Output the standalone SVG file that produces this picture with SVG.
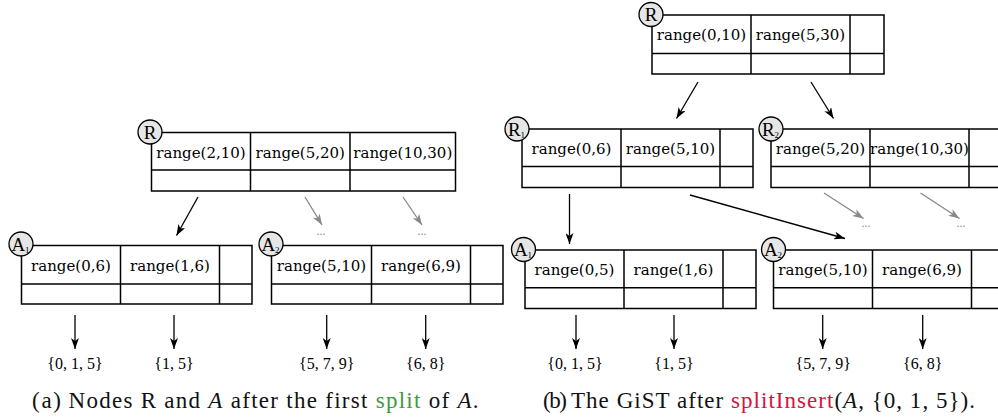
<svg xmlns="http://www.w3.org/2000/svg" width="998" height="419" viewBox="0 0 998 419">
<defs>
<style>
.box{fill:#fff;stroke:#000;stroke-width:1.5}
.ln{stroke:#000;stroke-width:1.5;fill:none}
.cell{font-family:"DejaVu Serif",serif;font-size:15px;text-anchor:middle;fill:#000}
.lab circle{fill:#e6e6e6;stroke:#000;stroke-width:1.3}
.lab text{font-family:"Liberation Serif",serif;font-size:19px;text-anchor:middle;fill:#000}
.sub{font-size:9px}
.ar{stroke:#000;stroke-width:1.3;fill:none;marker-end:url(#ah)}
.ag{stroke:#888;stroke-width:1.3;fill:none;marker-end:url(#ahg)}
.dots{font-family:"Liberation Serif",serif;font-size:12px;fill:#888;text-anchor:middle}
.leaf{font-family:"Liberation Serif",serif;font-size:16px;text-anchor:middle;fill:#000}
.cap{font-family:"Liberation Serif",serif;font-size:23px;fill:#111}
</style>
<marker id="ah" markerUnits="userSpaceOnUse" markerWidth="12" markerHeight="8" refX="11" refY="4" orient="auto">
<path d="M0,0 L11,4 L0,8 L3,4 z" fill="#000"/>
</marker>
<marker id="ahg" markerUnits="userSpaceOnUse" markerWidth="12" markerHeight="8" refX="11" refY="4" orient="auto">
<path d="M0,0 L11,4 L0,8 L3,4 z" fill="#888"/>
</marker>
</defs>
<rect width="998" height="419" fill="#fff"/>

<!-- (a) -->
<g id="a_R">
<rect class="box" x="151.5" y="132.5" width="304" height="58.5"/>
<path class="ln" d="M151.5,170H455.5M250.5,132.5V191M350,132.5V191"/>
<text class="cell" x="201" y="157.5">range(2,10)</text>
<text class="cell" x="300.3" y="157.5">range(5,20)</text>
<text class="cell" x="402.8" y="157.5">range(10,30)</text>
<g class="lab"><circle cx="150" cy="132" r="12"/><text x="150" y="138.5">R</text></g>
</g>
<g id="a_A1">
<rect class="box" x="21.5" y="245.5" width="230.5" height="58.5"/>
<path class="ln" d="M21.5,284H252M120.5,245.5V304M219.5,245.5V304"/>
<text class="cell" x="71" y="270.5">range(0,6)</text>
<text class="cell" x="170" y="270.5">range(1,6)</text>
<g class="lab"><circle cx="21" cy="244" r="12"/><text x="20.5" y="250.5">A<tspan class="sub" dy="2">1</tspan></text></g>
</g>
<g id="a_A2">
<rect class="box" x="271.5" y="245.5" width="231.5" height="58.5"/>
<path class="ln" d="M271.5,284H503M371.5,245.5V304M470.5,245.5V304"/>
<text class="cell" x="321.5" y="270.5">range(5,10)</text>
<text class="cell" x="421" y="270.5">range(6,9)</text>
<g class="lab"><circle cx="271" cy="244" r="12"/><text x="270.5" y="250.5">A<tspan class="sub" dy="2">2</tspan></text></g>
</g>

<!-- (b) -->
<g id="b_R">
<rect class="box" x="652" y="15" width="232" height="59"/>
<path class="ln" d="M652,53.5H884M751,15V74M850,15V74"/>
<text class="cell" x="701.5" y="40">range(0,10)</text>
<text class="cell" x="800.5" y="40">range(5,30)</text>
<g class="lab"><circle cx="651" cy="14.5" r="12"/><text x="651" y="21">R</text></g>
</g>
<g id="b_R1">
<rect class="box" x="522" y="129" width="231" height="58.5"/>
<path class="ln" d="M522,166.5H753M621,129V187.5M720,129V187.5"/>
<text class="cell" x="571.5" y="154">range(0,6)</text>
<text class="cell" x="670.5" y="154">range(5,10)</text>
<g class="lab"><circle cx="517" cy="129" r="12"/><text x="516.5" y="135.5">R<tspan class="sub" dy="2">1</tspan></text></g>
</g>
<g id="b_R2">
<rect class="box" x="771" y="129" width="235" height="58.5"/>
<path class="ln" d="M771,166.5H1006M870,129V187.5M969,129V187.5"/>
<text class="cell" x="820.5" y="154">range(5,20)</text>
<text class="cell" x="919.5" y="154">range(10,30)</text>
<g class="lab"><circle cx="771" cy="129" r="12"/><text x="770.5" y="135.5">R<tspan class="sub" dy="2">2</tspan></text></g>
</g>
<g id="b_A1">
<rect class="box" x="525" y="250" width="231" height="58.5"/>
<path class="ln" d="M525,287.7H756M624,250V308.5M723,250V308.5"/>
<text class="cell" x="574.5" y="275">range(0,5)</text>
<text class="cell" x="673.5" y="275">range(1,6)</text>
<g class="lab"><circle cx="523.5" cy="249.5" r="12"/><text x="523" y="256">A<tspan class="sub" dy="2">1</tspan></text></g>
</g>
<g id="b_A2">
<rect class="box" x="773.5" y="250" width="232" height="58.5"/>
<path class="ln" d="M773.5,287.7H1006M872.5,250V308.5M971.5,250V308.5"/>
<text class="cell" x="823" y="275">range(5,10)</text>
<text class="cell" x="922" y="275">range(6,9)</text>
<g class="lab"><circle cx="773.5" cy="249.5" r="12"/><text x="773" y="256">A<tspan class="sub" dy="2">2</tspan></text></g>
</g>

<g id="connectors">
<line class="ar" x1="198" y1="197" x2="176.5" y2="235.5"/>
<line class="ag" x1="305" y1="197" x2="322" y2="225"/>
<line class="ag" x1="403" y1="197" x2="422" y2="225"/>
<line class="ar" x1="75" y1="315" x2="75" y2="349"/>
<line class="ar" x1="174" y1="315" x2="174" y2="349"/>
<line class="ar" x1="326.7" y1="315" x2="326.7" y2="349"/>
<line class="ar" x1="425.7" y1="315" x2="425.7" y2="349"/>
<line class="ar" x1="698" y1="82" x2="676.5" y2="118.5"/>
<line class="ar" x1="811" y1="82" x2="833.5" y2="118.5"/>
<line class="ar" x1="569.5" y1="194" x2="569.5" y2="244"/>
<line class="ar" x1="690" y1="195" x2="845" y2="238.5"/>
<line class="ag" x1="824" y1="193" x2="863.5" y2="218.5"/>
<line class="ag" x1="920.5" y1="193" x2="959.5" y2="218.5"/>
<line class="ar" x1="576" y1="315" x2="576" y2="349"/>
<line class="ar" x1="674" y1="315" x2="674" y2="349"/>
<line class="ar" x1="822.7" y1="315" x2="822.7" y2="349"/>
<line class="ar" x1="922.7" y1="315" x2="922.7" y2="349"/>
</g>

<text class="dots" x="321" y="235">...</text>
<text class="dots" x="422" y="235">...</text>
<text class="dots" x="866" y="227">...</text>
<text class="dots" x="961" y="227">...</text>

<text class="leaf" x="75" y="369">{0, 1, 5}</text>
<text class="leaf" x="174" y="369">{1, 5}</text>
<text class="leaf" x="326.7" y="369">{5, 7, 9}</text>
<text class="leaf" x="425.7" y="369">{6, 8}</text>
<text class="leaf" x="575" y="369">{0, 1, 5}</text>
<text class="leaf" x="674" y="369">{1, 5}</text>
<text class="leaf" x="823.3" y="369">{5, 7, 9}</text>
<text class="leaf" x="922.7" y="369">{6, 8}</text>

<text class="cap" x="32" y="408" textLength="29" lengthAdjust="spacing">(a)</text>
<text class="cap" x="68.5" y="408" textLength="410" lengthAdjust="spacing">Nodes R and <tspan font-style="italic">A</tspan> after the first <tspan fill="#3c9a3c">split</tspan> of <tspan font-style="italic">A</tspan>.</text>
<text class="cap" x="543" y="408" textLength="24" lengthAdjust="spacing">(b)</text>
<text class="cap" x="571" y="408" textLength="404" lengthAdjust="spacing">The GiST after <tspan fill="#d3143c">splitInsert</tspan>(<tspan font-style="italic">A</tspan>, {0, 1, 5}).</text>
</svg>
